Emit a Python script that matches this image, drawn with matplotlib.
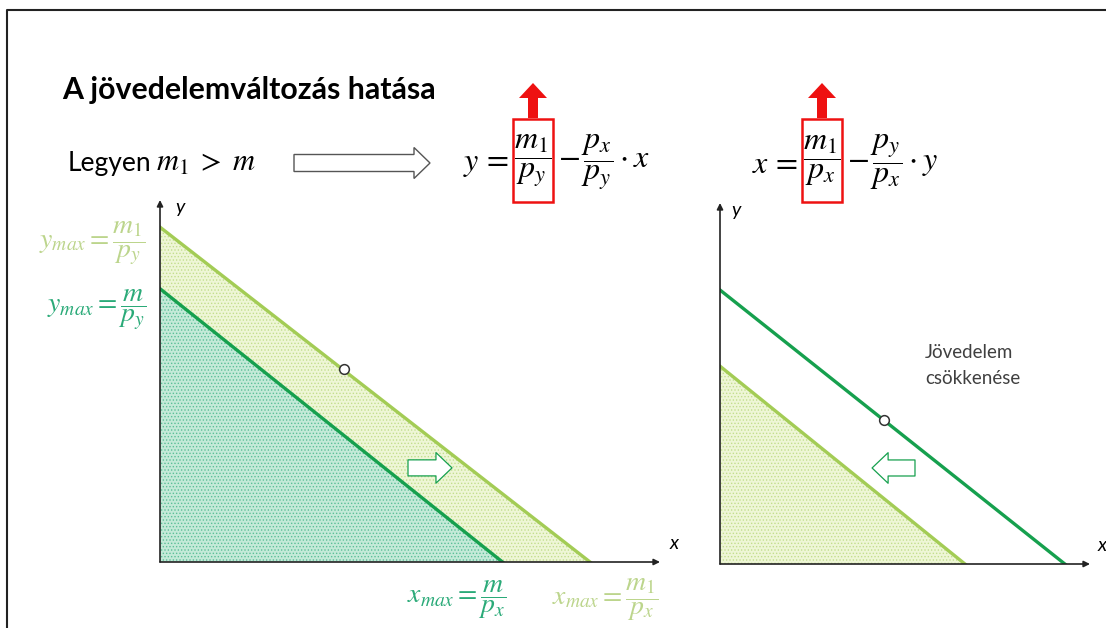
import matplotlib
matplotlib.use("Agg")
import matplotlib.pyplot as plt
from matplotlib.patches import Rectangle, Polygon, FancyArrow

plt.rcParams['font.family'] = ['Lato', 'DejaVu Sans']
plt.rcParams['mathtext.fontset'] = 'stix'
plt.rcParams['hatch.linewidth'] = 0.6

# budget line intercepts (data units of each panel)
left_x_max = [6.85, 8.6]     # m/px, m1/px
left_y_max = [7.55, 9.25]    # m/py, m1/py
right_x_max = [9.32, 6.62]   # original, after income drop
right_y_max = [7.59, 5.48]
left_point = (3.68, 5.33)
right_point = (4.43, 3.99)

DARK = '#16a04e'
LIGHT = '#a3cc55'
LABEL_LIGHT = '#bcd58c'
LABEL_DARK = '#2aaa78'
RED = '#ee1111'

W, H = 1106, 628
fig = plt.figure(figsize=(W / 100, H / 100), dpi=100)

# overlay in pixel coordinates for slide text
ov = fig.add_axes([0, 0, 1, 1])
ov.set_xlim(0, W)
ov.set_ylim(H, 0)
ov.axis('off')

# slide frame
ov.plot([7, 7, W], [H, 10, 10], color='#222222', lw=1.5)

ov.text(62, 90, 'A jövedelemváltozás hatása', fontsize=21.8, fontweight='bold',
        va='center', ha='left', color='black')
ov.text(68, 163, 'Legyen', fontsize=19, va='center', ha='left')
ov.text(156, 163, r'$m_1\;>\;m$', fontsize=22, va='center', ha='left')

# hollow arrow after "Legyen"
ov.add_patch(FancyArrow(294, 163, 136, 0, width=17, head_width=31, head_length=16,
                        length_includes_head=True, fc='white', ec='#555555', lw=1))


def equation(lhs, frac, rest, x_box):
    # x_box: left edge of the red box
    ov.text(x_box - 4, 164, lhs, fontsize=23, ha='right', va='center')
    ov.text(x_box + 20, 161, frac, fontsize=23, ha='center', va='center')
    ov.text(x_box + 45, 162, rest, fontsize=23, ha='left', va='center')
    ov.add_patch(Rectangle((x_box, 119), 40, 83, fill=False, ec=RED, lw=1.8))
    ov.add_patch(FancyArrow(x_box + 20, 118, 0, -35, width=10, head_width=28,
                            head_length=15, length_includes_head=True,
                            fc=RED, ec=RED, lw=0))


equation(r'$y\,=$', r'$\dfrac{m_1}{p_y}$', r'$-\,\dfrac{p_x}{p_y}\cdot x$', 513)
equation(r'$x\,=$', r'$\dfrac{m_1}{p_x}$', r'$-\,\dfrac{p_y}{p_x}\cdot y$', 802)

# intercept labels
ov.text(146, 243, r'$y_{max}=\dfrac{m_1}{p_y}$', fontsize=20, ha='right', va='center',
        color=LABEL_LIGHT)
ov.text(146, 310, r'$y_{max}=\dfrac{m}{p_y}$', fontsize=20, ha='right', va='center',
        color=LABEL_DARK)
ov.text(457, 600, r'$x_{max}=\dfrac{m}{p_x}$', fontsize=20, ha='center', va='center',
        color=LABEL_DARK)
ov.text(605, 600, r'$x_{max}=\dfrac{m_1}{p_x}$', fontsize=20, ha='center', va='center',
        color=LABEL_LIGHT)

ov.text(925, 353, 'Jövedelem', fontsize=13.5, color='#404040', va='center')
ov.text(925, 378, 'csökkenése', fontsize=13.5, color='#404040', va='center')


def panel(x0, y0, x1, y1):
    # pixel box -> figure fraction
    ax = fig.add_axes([x0 / W, (H - y0) / H, (x1 - x0) / W, (y0 - y1) / H])
    ax.set_xlim(0, 10)
    ax.set_ylim(0, 10)
    ax.axis('off')
    ax.patch.set_alpha(0)
    ax.annotate('', xy=(1, 0), xytext=(0, 0), xycoords='axes fraction',
                arrowprops=dict(arrowstyle='-|>', color='#222222', lw=1.2,
                                mutation_scale=9, shrinkA=0, shrinkB=0))
    ax.annotate('', xy=(0, 1), xytext=(0, 0), xycoords='axes fraction',
                arrowprops=dict(arrowstyle='-|>', color='#222222', lw=1.2,
                                mutation_scale=9, shrinkA=0, shrinkB=0))
    ax.text(0.03, 0.98, 'y', transform=ax.transAxes, fontsize=14, style='italic',
            ha='left', va='center')
    ax.text(1.02, 0.05, 'x', transform=ax.transAxes, fontsize=14, style='italic',
            ha='left', va='center')
    return ax


def hollow_arrow(ax, x_from, x_to, y):
    ax.annotate('', xy=(x_to, y), xytext=(x_from, y),
                arrowprops=dict(arrowstyle='simple,head_length=0.55,head_width=1.05,tail_width=0.55',
                                fc='white', ec=DARK, lw=0.9, mutation_scale=21,
                                shrinkA=0, shrinkB=0))


# left panel: income rises
axl = panel(160, 562, 660, 200)
axl.add_patch(Polygon([(0, 0), (left_x_max[1], 0), (0, left_y_max[1])], closed=True,
                      fc='#eef6d6', ec='#c2de8e', hatch='.....', lw=0))
axl.add_patch(Polygon([(0, 0), (left_x_max[0], 0), (0, left_y_max[0])], closed=True,
                      fc='#c4ead8', ec='#5cbf98', hatch='.....', lw=0))
axl.plot([0, left_x_max[1]], [left_y_max[1], 0], color=LIGHT, lw=2.4)
axl.plot([0, left_x_max[0]], [left_y_max[0], 0], color=DARK, lw=2.4)
axl.plot(*left_point, 'o', ms=7, mfc='white', mec='#333333', mew=1.1)
hollow_arrow(axl, 4.96, 5.84, 2.6)

# right panel: income falls
axr = panel(720, 564, 1090, 203)
axr.add_patch(Polygon([(0, 0), (right_x_max[1], 0), (0, right_y_max[1])], closed=True,
                      fc='#eef6d6', ec='#c2de8e', hatch='.....', lw=0))
axr.plot([0, right_x_max[1]], [right_y_max[1], 0], color=LIGHT, lw=2.4)
axr.plot([0, right_x_max[0]], [right_y_max[0], 0], color=DARK, lw=2.4)
axr.plot(*right_point, 'o', ms=7, mfc='white', mec='#333333', mew=1.1)
hollow_arrow(axr, 5.27, 4.11, 2.66)

fig.savefig('out.png', dpi=100)
